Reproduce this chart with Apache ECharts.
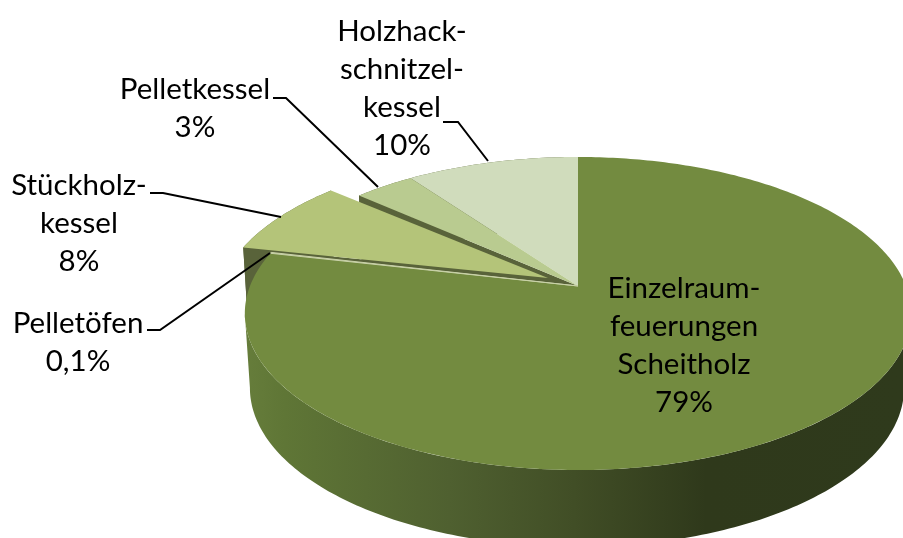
<!DOCTYPE html>
<html>
<head>
<meta charset="utf-8">
<style>
  html, body { margin: 0; padding: 0; background: #fff; }
  #main { width: 903px; height: 538px; }
</style>
<script src="https://cdn.jsdelivr.net/npm/echarts@6/dist/echarts.min.js"></script>
</head>
<body>
<div id="main"></div>
<script>
// data
const sliceNames = ['Einzelraum-\nfeuerungen\nScheitholz', 'Pelletöfen', 'Stückholz-\nkessel', 'Pelletkessel', 'Holzhack-\nschnitzel-\nkessel']
const sliceValues = [78.6, 0.1, 7.9, 3.49, 9.91]
const sliceColors = ['#738b40', '#c9d2a8', '#b4c479', '#b9cb90', '#d0dcbc']

// layout of the tilted disc
const tilt = 0.1757
const topFace = { x: 578, y: 286, a: 328, b: 151.7 }
const bottomFace = { x: 577, y: 360, a: 322, b: 154 }
const rimOffset = { 2: [-28, -5] }
const apexOffset = { 2: [-30, -8] }
const drawOrder = [4, 3, 2, 0, 1]
const sideColor = '#59633a'

const labelBoxes = [
  { x: 684, y: 345, leader: null },
  { x: 78, y: 342, leader: [[147, 330], [160, 330], [270, 253]] },
  { x: 79, y: 223, leader: [[150, 193], [163, 193], [281, 217]] },
  { x: 195, y: 108, leader: [[273, 98], [286, 98], [378, 187]] },
  { x: 402, y: 88, leader: [[443, 122], [458, 122], [488, 161]] }
]

const total = sliceValues.reduce((a, b) => a + b, 0)
const starts = []
sliceValues.reduce((acc, v, i) => { starts[i] = acc; return acc + v / total }, 0)

function rimPoint (face, frac, offset) {
  const t = frac * Math.PI * 2
  const u = Math.sin(t)
  const v = Math.cos(t)
  const w = 1 + tilt * v
  const o = offset || [0, 0]
  return [face.x + face.a * u / w + o[0], face.y - face.b * v / w + o[1]]
}

function rimPath (face, from, to, offset) {
  const pts = []
  const n = Math.max(2, Math.ceil((to - from) * 400))
  for (let i = 0; i <= n; i++) {
    pts.push(rimPoint(face, from + (to - from) * i / n, offset))
  }
  return pts
}

function percentText (v) {
  return v < 1 ? String(v).replace('.', ',') + '%' : Math.round(v) + '%'
}

function renderSlice (params, api) {
  const i = api.value(0)
  const from = starts[i]
  const to = from + sliceValues[i] / total
  const off = rimOffset[i] || [0, 0]
  const aoff = apexOffset[i] || [0, 0]
  const apex = [topFace.x + aoff[0], topFace.y + aoff[1]]
  const apexLow = [bottomFace.x + aoff[0], bottomFace.y + aoff[1]]
  const children = []

  // outer wall (the thin 0,1% slice is hidden behind the main one)
  if (i !== 1) {
    // 0.278 and 0.722 are where the tilted rim is widest
    const wallFrom = i === 0 ? 0.278 : from
    const wallTo = i === 0 ? 0.722 : to
    const wall = rimPath(topFace, wallFrom, wallTo, off).concat(rimPath(bottomFace, wallFrom, wallTo, off).reverse())
    children.push({
      type: 'polygon',
      shape: { points: wall },
      style: {
        fill: i === 0
          ? new echarts.graphic.LinearGradient(245, 0, 903, 0, [
            { offset: 0, color: '#667d3b' },
            { offset: 0.06, color: '#5f7636' },
            { offset: 0.31, color: '#4f6030' },
            { offset: 0.5, color: '#414e26' },
            { offset: 0.7, color: '#2f391b' },
            { offset: 1, color: '#2f3a1c' }
          ], true)
          : sideColor
      }
    })
  }

  // radial side facing the viewer
  if (i === 2 || i === 3) {
    children.push({
      type: 'polygon',
      shape: { points: [apex, rimPoint(topFace, from, off), rimPoint(bottomFace, from, off), apexLow] },
      style: { fill: sideColor }
    })
  }

  // top face
  children.push({
    type: 'polygon',
    shape: { points: [apex].concat(rimPath(topFace, from, to, off)) },
    style: { fill: sliceColors[i], stroke: i === 1 ? sliceColors[i] : null, lineWidth: i === 1 ? 1 : 0 }
  })
  return { type: 'group', children: children }
}

function renderLabel (params, api) {
  const i = api.value(0)
  const box = labelBoxes[i]
  const children = []
  if (box.leader) {
    children.push({
      type: 'polyline',
      shape: { points: box.leader },
      style: { stroke: '#000', lineWidth: 2, fill: null }
    })
  }
  children.push({
    type: 'text',
    style: {
      text: sliceNames[i] + '\n' + percentText(sliceValues[i] >= 1 ? Math.round(sliceValues[i]) : sliceValues[i]),
      x: box.x,
      y: box.y,
      fill: '#000',
      font: '29.5px Lato, "Noto Sans", sans-serif',
      align: 'center',
      verticalAlign: 'middle',
      lineHeight: 38
    }
  })
  return { type: 'group', children: children }
}

const myChart = echarts.init(document.getElementById('main'))
myChart.setOption({
  animation: false,
  backgroundColor: '#fff',
  series: [
    {
      type: 'custom',
      coordinateSystem: 'none',
      renderItem: renderSlice,
      silent: true,
      data: drawOrder.map(i => [i])
    },
    {
      type: 'custom',
      coordinateSystem: 'none',
      renderItem: renderLabel,
      silent: true,
      z: 5,
      data: sliceNames.map((n, i) => [i])
    }
  ]
})
</script>
</body>
</html>
